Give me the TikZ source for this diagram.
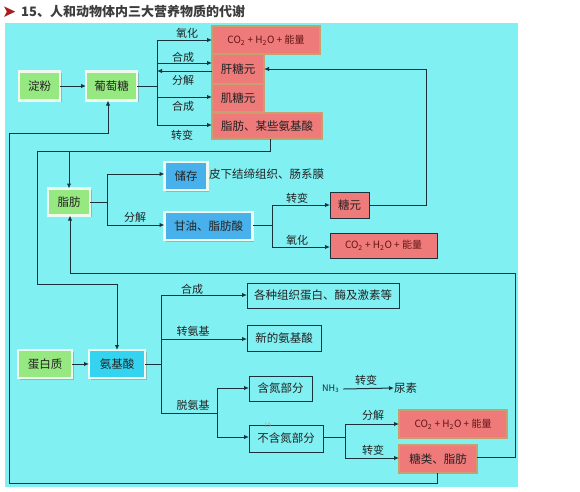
\documentclass[tikz,border=0pt]{standalone}
\usepackage{fontspec}
\setmainfont{Noto Sans CJK SC}
\newfontfamily\dejavu{DejaVu Sans}
\usetikzlibrary{arrows.meta,shadows}
\definecolor{bgcyan}{RGB}{128,240,242}
\definecolor{lincol}{RGB}{25,50,60}
\definecolor{gfill}{RGB}{150,232,128}
\definecolor{bfill}{RGB}{72,176,234}
\definecolor{cfill}{RGB}{52,212,240}
\definecolor{rfill}{RGB}{238,122,122}
\definecolor{rborder}{RGB}{200,160,112}
\definecolor{txtdark}{RGB}{35,35,35}
\definecolor{txtred}{RGB}{100,20,20}
\definecolor{titlered}{RGB}{165,30,30}
\definecolor{titlegray}{RGB}{60,60,60}
\newcommand{\sbt}[1]{\textsubscript{#1}}
\tikzset{
  box/.style={inner sep=0pt, outer sep=0pt, font=\fontsize{11.5}{12}\selectfont, text=txtdark},
  litebox/.style={box, draw={rgb,255:red,238;green,250;blue,240}, line width=2.2pt,
     drop shadow={shadow xshift=1.5pt, shadow yshift=-1.5pt, fill=gray, opacity=0.45}},
  greenbox/.style={litebox, fill=gfill},
  bluebox/.style={litebox, fill=bfill},
  cyanbox/.style={litebox, fill=cfill},
  redbox/.style={box, fill=rfill, draw=rborder, line width=1.8pt},
  redthin/.style={box, fill=rfill, draw=lincol, line width=0.9pt},
  plainbox/.style={box, draw=lincol, line width=0.9pt},
  lbl/.style={inner sep=0pt, font=\fontsize{11}{12}\selectfont, text=txtdark},
  ln/.style={draw=lincol, line width=1pt},
  arr/.style={ln, -{Latex[length=5pt,width=4.5pt]}},
}
\begin{document}
\begin{tikzpicture}[x=1pt,y=-1pt]
\useasboundingbox (0,0) rectangle (580,491);
\fill[white] (0,0) rectangle (580,491);
% title
\node[anchor=west, inner sep=0pt, text=titlered, font=\dejavu\fontsize{17}{18}\selectfont] (tarrow) at (2,12) {➤};
\node[anchor=west, inner sep=0pt, text=titlegray, font=\bfseries\fontsize{13}{14}\selectfont] (title) at (21,12) {15、人和动物体内三大营养物质的代谢};
% background
\fill[bgcyan] (5,23) rectangle (518,487);

% ---------- sugar section ----------
\node[greenbox, minimum width=41pt, minimum height=29pt] (dianfen) at (39.5,86) {淀粉};
\node[greenbox, minimum width=51pt, minimum height=29pt] (putao) at (111.5,86) {葡萄糖};
\node[redbox, minimum width=108pt, minimum height=28pt, text=txtred, font=\fontsize{10}{12}\selectfont] (co2a) at (266,40) {CO\sbt{2} + H\sbt{2}O + 能量};
\node[redbox, minimum width=52pt, minimum height=29pt] (gan) at (238,69) {肝糖元};
\node[redbox, minimum width=52pt, minimum height=28pt] (ji) at (238,98) {肌糖元};
\node[redbox, minimum width=110pt, minimum height=26pt] (zfm) at (267,126) {脂肪、某些氨基酸};

\coordinate (b1) at (157,86);
\draw[arr] (dianfen) -- (putao);
\draw[ln] (putao.east) -- (b1);
\draw[ln] (157,40) -- (157,125);
\draw[arr] (157,40) -- (co2a.west |- 0,40);
\draw[arr] (157,63) -- (gan.west |- 0,63);
\draw[arr] (gan.west |- 0,71) -- (157,71);
\draw[arr] (157,97) -- (ji.west |- 0,97);
\draw[arr] (157,125) -- (zfm.west |- 0,125);
\node[lbl] (l1) at (187,33) {氧化};
\node[lbl] (l2) at (183,57) {合成};
\node[lbl] (l3) at (183,80) {分解};
\node[lbl] (l4) at (183,106) {合成};
\node[lbl] (l5) at (182,135) {转变};

% ---------- fat section ----------
\node[greenbox, minimum width=42pt, minimum height=27pt] (zhifang) at (69,202) {脂肪};
\node[bluebox, minimum width=43pt, minimum height=28pt] (chucun) at (186,176) {储存};
\node[anchor=west, lbl, font=\fontsize{11.5}{12}\selectfont] (pixia) at (209,174) {皮下结缔组织、肠系膜};
\node[bluebox, minimum width=88pt, minimum height=28pt] (ganyou) at (208.5,226) {甘油、脂肪酸};
\node[redthin, minimum width=39pt, minimum height=26pt] (tangyuan) at (349.5,205) {糖元};
\node[redthin, minimum width=107pt, minimum height=25pt, text=txtred, font=\fontsize{10}{12}\selectfont] (co2b) at (383.5,245.5) {CO\sbt{2} + H\sbt{2}O + 能量};

\coordinate (b2) at (107,202);
\draw[ln] (zhifang.east |- 0,202) -- (b2);
\draw[ln] (107,174) -- (107,225);
\draw[arr] (107,174) -- (chucun.west |- 0,174);
\draw[arr] (107,225) -- (ganyou.west |- 0,225);
\node[lbl] (l6) at (135,217) {分解};

\coordinate (b3) at (272,225);
\draw[ln] (ganyou.east |- 0,225) -- (b3);
\draw[ln] (272,205) -- (272,247);
\draw[arr] (272,205) -- (tangyuan.west);
\draw[arr] (272,247) -- (co2b.west |- 0,247);
\node[lbl] (l7) at (297,198) {转变};
\node[lbl] (l8) at (297,240) {氧化};

% 糖元 -> 肝糖元
\draw[arr] (tangyuan.east) -- (426,205) -- (426,69) -- (gan.east);

% 脂肪、某些氨基酸 -> 脂肪 / 氨基酸
\coordinate (j1) at (270,151);
\draw[ln] (zfm.south -| 270,0) -- (j1) -- (37,151);
\draw[arr] (69,151) -- (zhifang.north);

% ---------- protein section ----------
\node[greenbox, minimum width=54pt, minimum height=28pt] (danbai) at (45,364) {蛋白质};
\node[cyanbox, minimum width=56pt, minimum height=28pt] (anji) at (117,364) {氨基酸};
\node[plainbox, minimum width=152pt, minimum height=25pt] (gezhong) at (323,295.5) {各种组织蛋白、酶及激素等};
\node[plainbox, minimum width=74pt, minimum height=26pt] (xinde) at (284,338) {新的氨基酸};
\node[plainbox, minimum width=63pt, minimum height=25pt] (handan) at (280.5,388.5) {含氮部分};
\node[plainbox, minimum width=74pt, minimum height=27pt] (buhan) at (286,438.5) {不含氮部分};
\node[anchor=north west, inner sep=0pt, text=gray!70, font=\fontsize{6}{6}\selectfont] (pg) at (264,423) {19};
\node[anchor=west, inner sep=0pt, font=\fontsize{9}{10}\selectfont, text=txtdark] (nh3) at (322,389) {NH\sbt{3}};
\node[anchor=west, inner sep=0pt, font=\fontsize{11.5}{12}\selectfont, text=txtdark] (niaosu) at (394,388) {尿素};
\node[redbox, minimum width=108pt, minimum height=28pt, text=txtred, font=\fontsize{10}{12}\selectfont] (co2c) at (453,424) {CO\sbt{2} + H\sbt{2}O + 能量};
\node[redbox, minimum width=78pt, minimum height=28pt] (tanglei) at (438,459) {糖类、脂肪};

\draw[arr] (37,151) -- (37,284) -- (117,284) -- (anji.north);
\draw[arr] (danbai) -- (anji);
\coordinate (b4) at (161,364);
\draw[ln] (anji.east) -- (b4);
\draw[ln] (161,295) -- (161,413);
\draw[arr] (161,295) -- (gezhong.west |- 0,295);
\draw[arr] (161,339) -- (xinde.west |- 0,339);
\node[lbl] (l9) at (192,289) {合成};
\node[lbl] (l10) at (193,331) {转氨基};
\node[lbl] (l11) at (193,405) {脱氨基};
\coordinate (b5) at (217,413);
\draw[ln] (161,413) -- (b5);
\draw[ln] (217,388) -- (217,437);
\draw[arr] (217,388) -- (handan.west |- 0,388);
\draw[arr] (217,437) -- (buhan.west |- 0,437);
\draw[arr] (nh3.east) ++(4,0) -- (niaosu.west);
\node[lbl] (l12) at (366,380) {转变};

\coordinate (b6) at (345,437);
\draw[ln] (buhan.east |- 0,437) -- (b6);
\draw[ln] (345,424) -- (345,458);
\draw[arr] (345,424) -- (co2c.west);
\draw[arr] (345,458) -- (tanglei.west |- 0,458);
\node[lbl] (l13) at (373,415) {分解};
\node[lbl] (l14) at (373,450) {转变};

% 糖类、脂肪 -> 脂肪
\draw[arr] (tanglei.east |- 0,457) -- (515,457) -- (515,273) -- (70,273) -- (zhifang.south -| 70,0);
% 糖类、脂肪 -> 葡萄糖
\draw[arr] (tanglei.south -| 437,0) -- (437,483) -- (9,483) -- (9,133) -- (108,133) -- (putao.south -| 108,0);
\end{tikzpicture}
\end{document}
